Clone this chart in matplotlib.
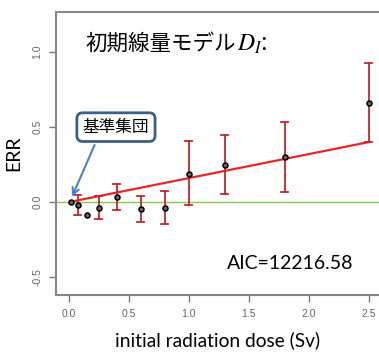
import numpy as np
import matplotlib
matplotlib.use("Agg")
import matplotlib.pyplot as plt

plt.rcParams['font.family'] = ['Noto Sans CJK JP', 'DejaVu Sans']
plt.rcParams['mathtext.fontset'] = 'stix'

# data
dose = [0.02, 0.077, 0.15, 0.25, 0.40, 0.60, 0.80, 1.0, 1.3, 1.8, 2.5]
err = [0.0, -0.02, -0.085, -0.038, 0.031, -0.047, -0.038, 0.19, 0.247, 0.30, 0.66]
err_hi = [np.nan, 0.047, np.nan, 0.04, 0.12, 0.042, 0.073, 0.41, 0.45, 0.533, 0.93]
err_lo = [np.nan, -0.087, np.nan, -0.115, -0.053, -0.13, -0.147, -0.018, 0.053, 0.065, 0.40]
fit_dose = [0.02, 2.5]
fit_err = [0.003, 0.40]
xticks = [0.0, 0.5, 1.0, 1.5, 2.0, 2.5]
yticks = [-0.5, 0.0, 0.5, 1.0]

fig = plt.figure(figsize=(3.79, 3.56), dpi=100)
ax = fig.add_axes([0.148, 0.171, 0.852, 0.795])

# reference line at zero and fitted model
ax.axhline(0, color="#8cc84b", lw=1.0, zorder=1)
ax.plot(fit_dose, fit_err, color="#e8262a", lw=1.6, zorder=2)

# error bars
cap = 0.028
for x, lo, hi in zip(dose, err_lo, err_hi):
    if np.isnan(lo):
        continue
    ax.plot([x, x], [lo, hi], color="#c0282d", lw=1.3, zorder=3)
    ax.plot([x - cap, x + cap], [hi, hi], color="#c0282d", lw=1.3, zorder=3)
    ax.plot([x - cap, x + cap], [lo, lo], color="#c0282d", lw=1.3, zorder=3)

ax.plot(dose, err, "o", ms=3.6, mfc="#666666", mec="black", mew=1.1, zorder=4)

ax.set_xlim(-0.104, 2.5875)
ax.set_ylim(-0.62, 1.267)
ax.set_xticks(xticks)
ax.set_xticklabels([f"{v:.1f}" for v in xticks])
ax.set_yticks(yticks)
ax.set_yticklabels([f"{v:.1f}" for v in yticks], rotation=90, va="center")

for side in ["left", "top", "bottom"]:
    ax.spines[side].set_color("#888888")
    ax.spines[side].set_linewidth(1.5)
ax.spines["right"].set_visible(False)
ax.tick_params(colors="#777777", labelcolor="#666666", labelsize=7.5, length=5, width=1.0)
for lab in ax.get_xticklabels() + ax.get_yticklabels():
    lab.set_family(["Liberation Sans"])
ax.tick_params(axis="x", pad=5)
ax.tick_params(axis="y", pad=5)

ax.set_xlabel("initial radiation dose (Sv)", fontsize=13.8, family=["Lato"], labelpad=9)
ax.set_ylabel("ERR", fontsize=14, family=["Lato"], labelpad=7)

# title with model name
t = ax.text(0.1375, 1.053, "初期線量モデル", fontsize=15.5, ha="left", va="center",
            family=["Noto Sans CJK JP"])
ax.annotate("$D_I$:", xy=(1.0, 0.5), xycoords=t, xytext=(1, 0), textcoords="offset points",
            ha="left", va="center", fontsize=17)

ax.text(1.32, -0.41, "AIC=12216.58", fontsize=14, family=["Lato"], ha="left", va="center")

# label for reference group
ax.annotate("基準集団", xy=(0.02, 0.02), xytext=(0.395, 0.5), fontsize=12,
            ha="center", va="center", family=["Noto Sans CJK JP"],
            bbox=dict(boxstyle="round,pad=0.35", fc="white", ec="#3d5f86", lw=2),
            arrowprops=dict(arrowstyle="->", color="#4f81bd", lw=1.5,
                            relpos=(0.24, 0.0), mutation_scale=12))

fig.savefig("out.png", dpi=100)
